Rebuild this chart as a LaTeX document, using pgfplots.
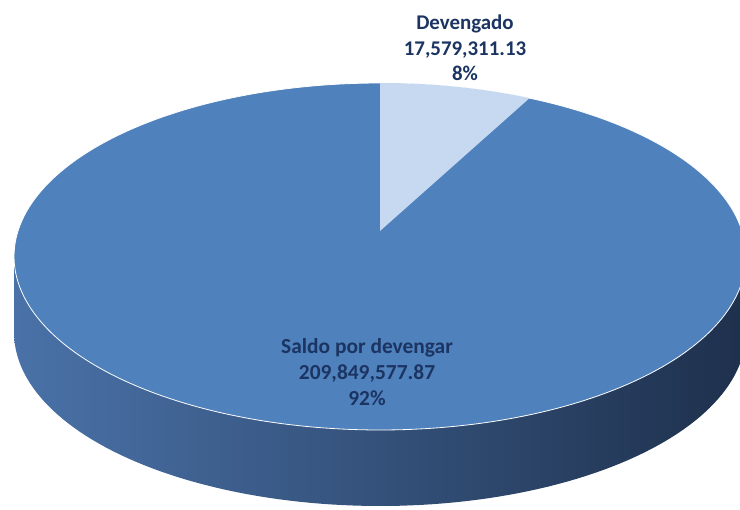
\documentclass[border=0pt]{standalone}
\usepackage{pgfplots}
\pgfplotsset{compat=1.18}
\usepackage{fontspec}
\setmainfont{Carlito}
\definecolor{saldo}{HTML}{4F81BD}
\definecolor{dev}{HTML}{C6D9F0}
\definecolor{wallL}{HTML}{4A72A8}
\definecolor{wallM}{HTML}{2F4C75}
\definecolor{wallR}{HTML}{1E304C}
\definecolor{txt}{HTML}{1B3462}
% values in millions
\def\vDev{17.57931113}
\def\vSal{209.84957787}
\pgfmathsetmacro\angEnd{90-360*\vDev/(\vDev+\vSal)}
\begin{document}
\begin{tikzpicture}
\begin{axis}[
  width=740bp, height=510bp, scale only axis,
  xmin=0, xmax=740, ymin=0, ymax=510, y dir=reverse,
  hide axis, clip=true,
  declare function={
    px(\t)=380+362*cos(\t)/(1+0.147*sin(\t));
    py(\t)=231-169.75*sin(\t)/(1+0.147*sin(\t));
    pyb(\t)=307-169.75*sin(\t)/(1+0.147*sin(\t));
  },
]
\path (rel axis cs:0,0) rectangle (rel axis cs:1,1);
% side wall: bottom ellipse and strip
\addplot[draw=none, left color=wallL, middle color=wallM, right color=wallR, domain=0:360, samples=240]
  ({px(x)},{pyb(x)}) -- cycle;
\addplot[draw=none, left color=wallL, middle color=wallM, right color=wallR]
  coordinates {(14.2,256.5) (745.8,256.5) (745.8,332.5) (14.2,332.5)} -- cycle;
% top face
\addplot[fill=saldo, draw=white, line width=0.8pt, domain=0:360, samples=300]
  ({px(x)},{py(x)}) -- cycle;
% Devengado slice
\addplot[fill=dev, draw=none, domain=\angEnd:90, samples=40]
  ({px(x)},{py(x)}) -- (axis cs:380,231) -- cycle;
% labels
\node[align=center, text=txt, font=\bfseries\fontsize{21}{25.5}\selectfont] at (axis cs:465,48)
  {Devengado\\17,579,311.13\\8\%};
\node[align=center, text=txt, font=\bfseries\fontsize{21.5}{26}\selectfont] at (axis cs:367,372)
  {Saldo por devengar\\209,849,577.87\\92\%};
\end{axis}
\end{tikzpicture}
\end{document}
